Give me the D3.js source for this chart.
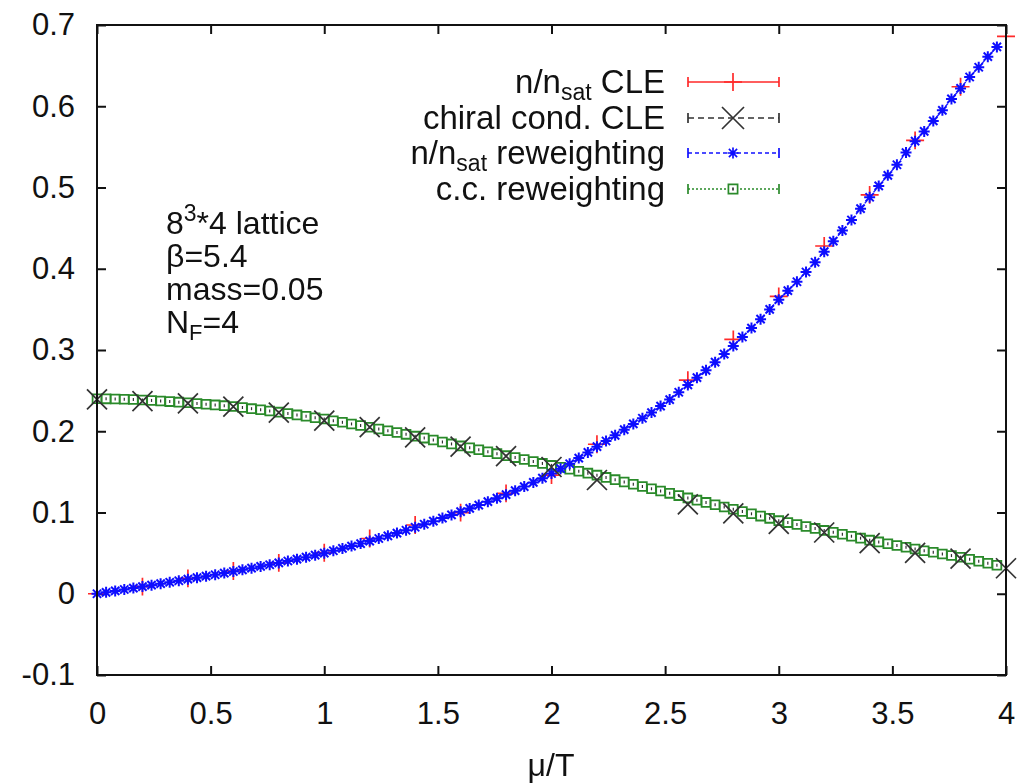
<!DOCTYPE html>
<html lang="en">
<head>
<meta charset="utf-8">
<style type="text/css">
  body { margin: 0; background: #fff; }
  text { font-family: "Liberation Sans", Arial, Helvetica, sans-serif; fill: #111; }
  .tick line { stroke: #111; stroke-width: 2px; }
  .tick text { font-size: 31px; }
  .frame { fill: none; stroke: #111; stroke-width: 2px; }
</style>
<script src="https://cdn.jsdelivr.net/npm/d3@7"></script>
</head>
<body>
<div id="chart"></div>
<script>
var width = 1025, height = 783;
var margin = {top: 25, right: 19, bottom: 108, left: 97};

// x ticks and y ticks
var xTicks = [0, 0.5, 1, 1.5, 2, 2.5, 3, 3.5, 4];
var yTicks = [-0.1, 0, 0.1, 0.2, 0.3, 0.4, 0.5, 0.6, 0.7];

// CLE runs (step 0.2, 2.4 missing)
var cleMu = [0, 0.2, 0.4, 0.6, 0.8, 1.0, 1.2, 1.4, 1.6, 1.8, 2.0, 2.2, 2.6, 2.8, 3.0, 3.2, 3.4, 3.6, 3.8, 4.0];
var cleDensity = [0.000, 0.0087, 0.019, 0.028, 0.038, 0.0505, 0.068, 0.0846, 0.0998, 0.1236, 0.146, 0.184,
                  0.263, 0.313, 0.366, 0.428, 0.491, 0.558, 0.624, 0.686];
var cleDensityErr = [0.010, 0.011, 0.011, 0.011, 0.011, 0.011, 0.011, 0.011, 0.011, 0.011, 0.011, 0.011,
                     0.011, 0.011, 0.011, 0.011, 0.011, 0.011, 0.011, 0.001];
var cleChiral = [0.2393, 0.237, 0.2344, 0.2302, 0.2228, 0.213, 0.205, 0.1925, 0.181, 0.1695, 0.156, 0.140,
                 0.110, 0.099, 0.086, 0.0754, 0.0622, 0.0503, 0.0433, 0.0314];

// reweighting (step 0.04)
var rwMu = [0, 0.04, 0.08, 0.12, 0.16, 0.20, 0.24, 0.28, 0.32, 0.36, 0.40, 0.44, 0.48, 0.52, 0.56, 0.60, 0.64, 0.68, 0.72, 0.76,
            0.80, 0.84, 0.88, 0.92, 0.96, 1.00, 1.04, 1.08, 1.12, 1.16, 1.20, 1.24, 1.28, 1.32, 1.36, 1.40, 1.44, 1.48, 1.52, 1.56,
            1.60, 1.64, 1.68, 1.72, 1.76, 1.80, 1.84, 1.88, 1.92, 1.96, 2.00, 2.04, 2.08, 2.12, 2.16, 2.20, 2.24, 2.28, 2.32, 2.36,
            2.40, 2.44, 2.48, 2.52, 2.56, 2.60, 2.64, 2.68, 2.72, 2.76, 2.80, 2.84, 2.88, 2.92, 2.96, 3.00, 3.04, 3.08, 3.12, 3.16,
            3.20, 3.24, 3.28, 3.32, 3.36, 3.40, 3.44, 3.48, 3.52, 3.56, 3.60, 3.64, 3.68, 3.72, 3.76, 3.80, 3.84, 3.88, 3.92, 3.96];
var rwDensity = [0.0000, 0.0017, 0.0035, 0.0052, 0.0070, 0.0088, 0.0106, 0.0124, 0.0142, 0.0160,
                 0.0180, 0.0198, 0.0216, 0.0234, 0.0254, 0.0274, 0.0294, 0.0315, 0.0336, 0.0357,
                 0.0380, 0.0403, 0.0426, 0.0450, 0.0475, 0.0500, 0.0529, 0.0558, 0.0587, 0.0617,
                 0.0648, 0.0680, 0.0713, 0.0747, 0.0782, 0.0818, 0.0855, 0.0893, 0.0931, 0.0970,
                 0.1010, 0.1050, 0.1091, 0.1133, 0.1176, 0.1220, 0.1269, 0.1319, 0.1370, 0.1423,
                 0.148, 0.154, 0.160, 0.167, 0.174, 0.181, 0.188, 0.195, 0.202, 0.209,
                 0.216, 0.223, 0.231, 0.239, 0.248, 0.257, 0.266, 0.275, 0.285, 0.295,
                 0.305, 0.316, 0.327, 0.338, 0.350, 0.362, 0.373, 0.384, 0.396, 0.408,
                 0.421, 0.434, 0.447, 0.460, 0.474, 0.488, 0.502, 0.515, 0.528, 0.543,
                 0.557, 0.569, 0.582, 0.595, 0.609, 0.622, 0.636, 0.648, 0.661, 0.673];
var rwChiral = [0.2400, 0.2399, 0.2397, 0.2394, 0.2390, 0.2385, 0.2379, 0.2372, 0.2365, 0.2358,
                0.2350, 0.2342, 0.2333, 0.2324, 0.2315, 0.2305, 0.2292, 0.2278, 0.2264, 0.2250,
                0.2235, 0.2218, 0.2201, 0.2184, 0.2167, 0.2150, 0.2130, 0.2110, 0.2090, 0.2070,
                0.2050, 0.2028, 0.2006, 0.1984, 0.1962, 0.1940, 0.1916, 0.1892, 0.1868, 0.1844,
                0.1820, 0.1796, 0.1772, 0.1748, 0.1724, 0.1700, 0.1676, 0.1652, 0.1628, 0.1604,
                0.1580, 0.1556, 0.1532, 0.1508, 0.1484, 0.1460, 0.1432, 0.1404, 0.1376, 0.1348,
                0.1320, 0.1292, 0.1264, 0.1236, 0.1208, 0.1180, 0.1152, 0.1124, 0.1096, 0.1068,
                0.1040, 0.1012, 0.0984, 0.0956, 0.0928, 0.0900, 0.0876, 0.0852, 0.0828, 0.0804,
                0.0780, 0.0756, 0.0732, 0.0708, 0.0684, 0.0660, 0.0638, 0.0616, 0.0594, 0.0572,
                0.0550, 0.0530, 0.0510, 0.0490, 0.0470, 0.0450, 0.0425, 0.0400, 0.0375, 0.0350];

var legendLabels = [["n/n", "sat", " CLE"], ["chiral cond. CLE"], ["n/n", "sat", " reweighting"], ["c.c. reweighting"]];

var innerW = width - margin.left - margin.right,
    innerH = height - margin.top - margin.bottom;

var svg = d3.select("#chart").append("svg")
    .attr("width", width)
    .attr("height", height)
    .style("background", "#fff");

var defs = svg.append("defs");
defs.append("filter").attr("id", "soft")
  .append("feGaussianBlur").attr("stdDeviation", 0.6);

var g = svg.append("g").attr("transform", "translate(" + margin.left + "," + margin.top + ")");

var x = d3.scaleLinear().domain([0, 4]).range([0, innerW]);
var y = d3.scaleLinear().domain([-0.1, 0.7]).range([innerH, 0]);

// plain hyphen for negatives, like gnuplot
var fmt = function(d) { return String(d); };

// axes, ticks pointing inward on all four sides
g.append("g").attr("transform", "translate(0," + innerH + ")")
  .call(d3.axisBottom(x).tickValues(xTicks).tickFormat(fmt).tickSizeInner(-9).tickSizeOuter(0).tickPadding(27))
  .call(function(a) { a.select(".domain").remove(); });
g.append("g")
  .call(d3.axisTop(x).tickValues(xTicks).tickFormat("").tickSizeInner(-9).tickSizeOuter(0))
  .call(function(a) { a.select(".domain").remove(); });
g.append("g")
  .call(d3.axisLeft(y).tickValues(yTicks).tickFormat(fmt).tickSizeInner(-9).tickSizeOuter(0).tickPadding(22))
  .call(function(a) { a.select(".domain").remove(); });
g.append("g").attr("transform", "translate(" + innerW + ",0)")
  .call(d3.axisRight(y).tickValues(yTicks).tickFormat("").tickSizeInner(-9).tickSizeOuter(0))
  .call(function(a) { a.select(".domain").remove(); });

g.selectAll(".tick text").attr("fill", "#111");

// marker shapes
function plusPath(h, v) { return "M" + (-h) + ",0H" + h + "M0," + (-v) + "V" + v; }
function crossPath(h) { return "M" + (-h) + "," + (-h) + "L" + h + "," + h + "M" + (-h) + "," + h + "L" + h + "," + (-h); }
function starPath(h) { var d = h * 0.75; return plusPath(h, h) + crossPath(d); }
function squarePath(h) { return "M" + (-h) + "," + (-h) + "H" + h + "V" + h + "H" + (-h) + "Z"; }

var plot = g.append("g").attr("filter", "url(#soft)");

// n/n_sat CLE: red + with vertical error bars
var cle = cleMu.map(function(m, i) { return {mu: m, n: cleDensity[i], e: cleDensityErr[i], c: cleChiral[i]}; });
plot.append("g").selectAll("path").data(cle).enter().append("path")
  .attr("transform", function(d) { return "translate(" + x(d.mu) + "," + y(d.n) + ")"; })
  .attr("d", function(d) { var v = y(0) - y(d.e); return plusPath(9, Math.max(v, 1)); })
  .attr("fill", "none").attr("stroke", "#ff2a2a").attr("stroke-width", 1.7);

// c.c. reweighting: green squares joined by dotted line
var rw = rwMu.map(function(m, i) { return {mu: m, n: rwDensity[i], c: rwChiral[i]}; });
plot.append("path").datum(rw)
  .attr("d", d3.line().x(function(d) { return x(d.mu); }).y(function(d) { return y(d.c); }))
  .attr("fill", "none").attr("stroke", "#2a8a2a").attr("stroke-width", 1.2).attr("stroke-dasharray", "2,2");
var sq = plot.append("g").selectAll("g").data(rw).enter().append("g")
  .attr("transform", function(d) { return "translate(" + x(d.mu) + "," + y(d.c) + ")"; });
sq.append("path").attr("d", squarePath(4.4))
  .attr("fill", "#fff").attr("stroke", "#2a8a2a").attr("stroke-width", 1.8);
sq.append("path").attr("d", "M0,-1.5V1.5")
  .attr("stroke", "#333").attr("stroke-width", 1.2);

// n/n_sat reweighting: blue stars joined by dashed line
plot.append("path").datum(rw)
  .attr("d", d3.line().x(function(d) { return x(d.mu); }).y(function(d) { return y(d.n); }))
  .attr("fill", "none").attr("stroke", "#2020ff").attr("stroke-width", 1.4).attr("stroke-dasharray", "4,3");
plot.append("g").selectAll("path").data(rw).enter().append("path")
  .attr("transform", function(d) { return "translate(" + x(d.mu) + "," + y(d.n) + ")"; })
  .attr("d", starPath(5.5))
  .attr("fill", "none").attr("stroke", "#1010ff").attr("stroke-width", 2);

// chiral cond. CLE: black crosses
plot.append("g").selectAll("path").data(cle).enter().append("path")
  .attr("transform", function(d) { return "translate(" + x(d.mu) + "," + y(d.c) + ")"; })
  .attr("d", crossPath(10))
  .attr("fill", "none").attr("stroke", "#333").attr("stroke-width", 1.7);

// frame
g.append("rect").attr("class", "frame").attr("width", innerW).attr("height", innerH);

// legend
var legend = svg.append("g");
var legY = [82, 118, 153, 189];
var legStyle = [
  {color: "#ff2a2a", dash: null, mark: function(s) { s.append("path").attr("d", plusPath(9, 9)); }},
  {color: "#333", dash: "6,4", mark: function(s) { s.append("path").attr("d", crossPath(11)); }},
  {color: "#1010ff", dash: "4,3", mark: function(s) { s.append("path").attr("d", starPath(5.5)); }},
  {color: "#2a8a2a", dash: "2,2", mark: function(s) {
      s.append("path").attr("d", squarePath(4.6)).attr("fill", "#fff");
      s.append("path").attr("d", "M0,-1.5V1.5").attr("stroke", "#333"); }}
];
legendLabels.forEach(function(lab, i) {
  var t = legend.append("text").attr("x", 665).attr("y", legY[i] + 11)
      .attr("text-anchor", "end").style("font-size", "33px");
  if (lab.length === 3) {
    t.append("tspan").text(lab[0]);
    t.append("tspan").attr("dy", 7).style("font-size", "23px").text(lab[1]);
    t.append("tspan").attr("dy", -7).text(lab[2]);
  } else {
    t.text(lab[0]);
  }
  var st = legStyle[i];
  var row = legend.append("g").attr("filter", "url(#soft)")
      .attr("fill", "none").attr("stroke", st.color).attr("stroke-width", 1.7);
  row.append("line").attr("x1", 688).attr("x2", 779).attr("y1", legY[i]).attr("y2", legY[i])
     .attr("stroke-dasharray", st.dash);
  row.append("line").attr("x1", 688).attr("x2", 688).attr("y1", legY[i] - 5).attr("y2", legY[i] + 5);
  row.append("line").attr("x1", 779).attr("x2", 779).attr("y1", legY[i] - 5).attr("y2", legY[i] + 5);
  st.mark(row.append("g").attr("transform", "translate(733," + legY[i] + ")"));
});

// annotation block
var note = svg.append("g").style("font-size", "32px");
var t1 = note.append("text").attr("x", 166).attr("y", 234);
t1.append("tspan").text("8");
t1.append("tspan").attr("dy", -13).style("font-size", "23px").text("3");
t1.append("tspan").attr("dy", 13).text("*4 lattice");
note.append("text").attr("x", 166).attr("y", 267).text("β=5.4");
note.append("text").attr("x", 166).attr("y", 300).text("mass=0.05");
var t4 = note.append("text").attr("x", 166).attr("y", 333);
t4.append("tspan").text("N");
t4.append("tspan").attr("dy", 7).style("font-size", "22px").text("F");
t4.append("tspan").attr("dy", -7).text("=4");

// x axis title
svg.append("text").attr("x", 551).attr("y", 776).attr("text-anchor", "middle")
  .style("font-size", "32px").text("μ/T");
</script>
</body>
</html>
